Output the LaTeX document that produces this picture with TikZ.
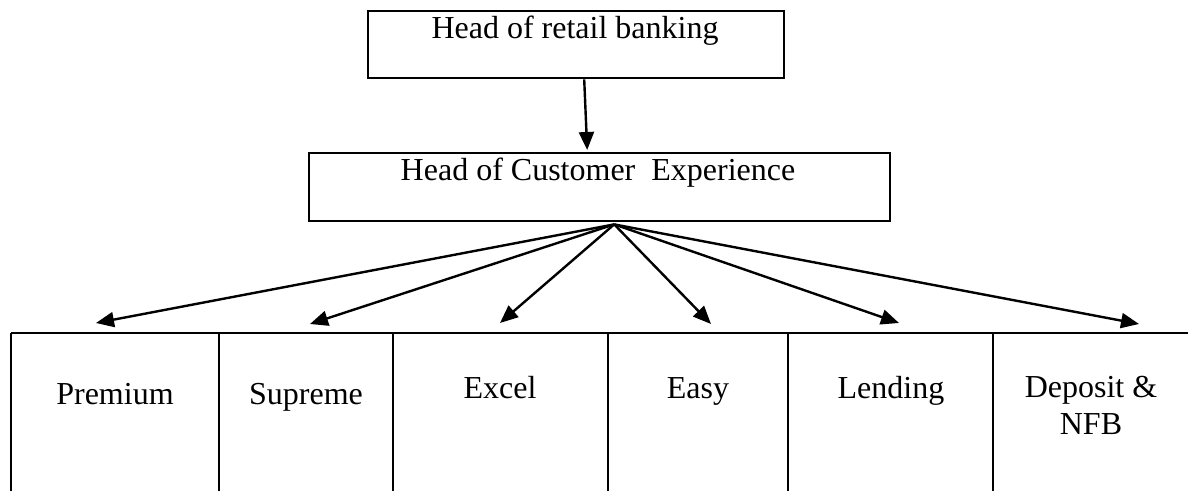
\documentclass[tikz,border=0pt]{standalone}
\usepackage{fontspec}
\setmainfont{Liberation Serif}
\usetikzlibrary{arrows.meta}
\begin{document}
\begin{tikzpicture}[x=0.5pt,y=-0.5pt,
  box/.style={draw,line width=1.2pt,anchor=north west,inner sep=0pt},
  cell/.style={anchor=north west,inner sep=0pt,minimum height=79pt},
  lbl/.style={anchor=base,font=\fontsize{16pt}{18.5pt}\selectfont,inner sep=0pt,align=center},
  arr/.style={line width=1.2pt,-{Triangle[length=9pt,width=7.5pt]}},
  rule/.style={line width=1.2pt}]
\useasboundingbox (0,0) rectangle (1188,491);
% top boxes
\node[box,minimum width=208pt,minimum height=33.5pt] (retail) at (367,10) {};
\node[lbl] (retailT) at (575,39) {Head of retail banking};
\node[box,minimum width=290.5pt,minimum height=34pt] (cx) at (308,152) {};
\node[lbl] (cxT) at (598,181) {Head of Customer\ \ Experience};
\draw[arr] ([xshift=4pt]retail.south) -- ([xshift=-6.25pt,yshift=1pt]cx.north);
\coordinate (fan) at ([xshift=7.25pt,yshift=-1pt]cx.south);
% bottom row cells
\node[cell,minimum width=104pt]   (c1) at (11,333) {};
\node[cell,minimum width=87pt]    (c2) at (219,333) {};
\node[cell,minimum width=107.5pt] (c3) at (393,333) {};
\node[cell,minimum width=90pt]    (c4) at (608,333) {};
\node[cell,minimum width=102.5pt] (c5) at (788,333) {};
\node[cell,minimum width=97.5pt]  (c6) at (993,333) {};
\draw[rule] (c1.north west) -- (c6.north east);
\foreach \c in {c1,c2,c3,c4,c5,c6}{\draw[rule] (\c.north west) -- (\c.south west);}
% cell labels
\node[lbl] (l1) at (115,405) {Premium};
\node[lbl] (l2) at (306,405) {Supreme};
\node[lbl] (l3) at (500,399) {Excel};
\node[lbl] (l4) at (698,399) {Easy};
\node[lbl] (l5) at (891,399) {Lending};
\node[lbl] (l6) at (1091,435) {Deposit \&\\NFB};
% arrow tips
\coordinate (t1) at (96,323);
\coordinate (t2) at (310,324);
\coordinate (t3) at (500,323);
\coordinate (t4) at (711,324);
\coordinate (t5) at (899,323);
\coordinate (t6) at (1139,324);
\foreach \t in {t1,t2,t3,t4,t5,t6}{\draw[arr] (fan) -- (\t);}
\end{tikzpicture}
\end{document}
